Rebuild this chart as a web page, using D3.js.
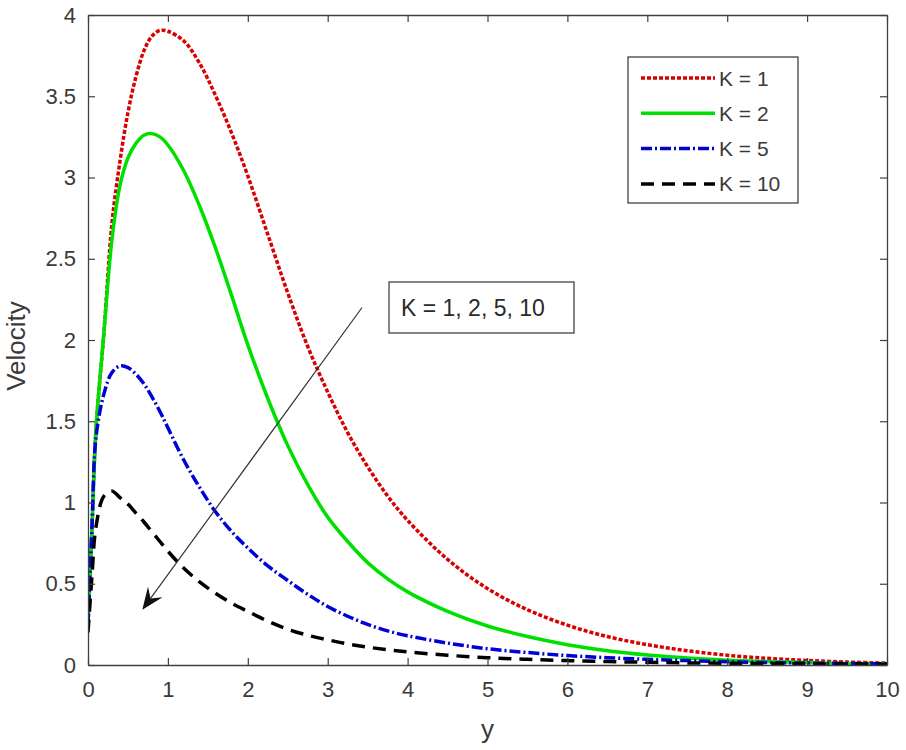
<!DOCTYPE html>
<html>
<head>
<meta charset="utf-8">
<script src="https://cdn.jsdelivr.net/npm/d3@7"></script>
<style>
  html, body { margin: 0; padding: 0; background: #fff; }
  svg { display: block; font-family: "Liberation Sans", Arial, sans-serif; }
</style>
</head>
<body>
<svg id="chart" width="906" height="750"></svg>
<script>
// ---------------- data ----------------
const yGrid = [0, 0.05, 0.1, 0.2, 0.3, 0.4, 0.5, 0.6, 0.7, 0.8, 0.9, 1.0, 1.2, 1.4, 1.6, 1.8, 2.0, 2.25, 2.5, 2.75, 3.0, 3.25, 3.5, 3.75, 4.0, 4.5, 5.0, 5.5, 6.0, 6.5, 7.0, 7.5, 8.0, 8.5, 9.0, 9.5, 10];
const velK1  = [0.25, 0.85, 1.45, 2.05, 2.72, 3.10, 3.40, 3.62, 3.78, 3.87, 3.905, 3.90, 3.84, 3.70, 3.50, 3.27, 3.01, 2.65, 2.29, 1.96, 1.68, 1.43, 1.22, 1.04, 0.89, 0.65, 0.47, 0.34, 0.245, 0.175, 0.125, 0.088, 0.060, 0.041, 0.028, 0.018, 0.012];
const velK2  = [0.25, 0.85, 1.45, 2.05, 2.62, 2.95, 3.12, 3.21, 3.26, 3.27, 3.25, 3.20, 3.04, 2.82, 2.56, 2.27, 1.97, 1.64, 1.35, 1.11, 0.91, 0.76, 0.63, 0.53, 0.45, 0.33, 0.24, 0.175, 0.125, 0.088, 0.062, 0.043, 0.030, 0.021, 0.015, 0.010, 0.007];
const velK5  = [0.25, 0.85, 1.40, 1.67, 1.80, 1.84, 1.83, 1.79, 1.73, 1.65, 1.56, 1.46, 1.26, 1.09, 0.94, 0.82, 0.72, 0.61, 0.52, 0.435, 0.36, 0.30, 0.25, 0.21, 0.18, 0.135, 0.100, 0.077, 0.058, 0.045, 0.035, 0.027, 0.020, 0.015, 0.012, 0.009, 0.007];
const velK10 = [0.20, 0.55, 0.85, 1.04, 1.07, 1.03, 0.99, 0.935, 0.88, 0.82, 0.76, 0.70, 0.595, 0.51, 0.44, 0.38, 0.33, 0.27, 0.22, 0.183, 0.155, 0.13, 0.11, 0.094, 0.081, 0.06, 0.045, 0.035, 0.027, 0.021, 0.017, 0.013, 0.011, 0.009, 0.007, 0.006, 0.005];

const seriesNames = ["K = 1", "K = 2", "K = 5", "K = 10"];
const seriesValues = [velK1, velK2, velK5, velK10];
const seriesColors = ["#d80000", "#00e000", "#0000d8", "#000000"];
const seriesDashes = ["4,2", null, "11,3,2,3", "13,8"];

const xTicks = [0, 1, 2, 3, 4, 5, 6, 7, 8, 9, 10];
const yTicks = [0, 0.5, 1, 1.5, 2, 2.5, 3, 3.5, 4];
const xLabel = "y";
const yLabel = "Velocity";
const noteText = "K = 1, 2, 5, 10";
// arrow in data coordinates: start -> tip
const arrowFrom = [3.43, 2.20];
const arrowTo = [0.68, 0.34];

// ---------------- layout ----------------
const L = 88, R = 887, T = 15, B = 665;
const axisCol = "#404040", textCol = "#3a3a3a";

const svg = d3.select("#chart");
const x = d3.scaleLinear().domain([0, 10]).range([L, R]);
const y = d3.scaleLinear().domain([0, 4]).range([B, T]);

// curves (clipped)
svg.append("clipPath").attr("id", "clip").append("rect")
  .attr("x", L).attr("y", T).attr("width", R - L).attr("height", B - T);

const line = d3.line().x(d => x(d[0])).y(d => y(d[1])).curve(d3.curveCatmullRom.alpha(0.5));
const plot = svg.append("g").attr("clip-path", "url(#clip)");
seriesValues.forEach((vals, i) => {
  const pts = yGrid.map((g, j) => [g, vals[j]]);
  plot.append("path")
    .attr("d", line(pts))
    .attr("fill", "none")
    .attr("stroke", seriesColors[i])
    .attr("stroke-width", 3.5)
    .attr("stroke-dasharray", seriesDashes[i])
    .attr("stroke-linejoin", "round");
});

// axes
const tickLen = 7;
const xAxisB = d3.axisBottom(x).tickValues(xTicks).tickSizeInner(-tickLen).tickSizeOuter(0).tickPadding(16).tickFormat(d3.format("d"));
const yAxisL = d3.axisLeft(y).tickValues(yTicks).tickSizeInner(-tickLen).tickSizeOuter(0).tickPadding(12).tickFormat(d => d3.format("")(d));
const xAxisT = d3.axisTop(x).tickValues(xTicks).tickSizeInner(-tickLen).tickSizeOuter(0).tickFormat("");
const yAxisR = d3.axisRight(y).tickValues(yTicks).tickSizeInner(-tickLen).tickSizeOuter(0).tickFormat("");

function styleAxis(g) {
  g.selectAll("path.domain").attr("stroke", axisCol).attr("stroke-width", 1.3);
  g.selectAll(".tick line").attr("stroke", axisCol).attr("stroke-width", 1.2);
  g.selectAll(".tick text").attr("fill", textCol).attr("font-size", 22)
    .attr("font-family", "'Liberation Sans', Arial, sans-serif");
}
svg.append("g").attr("transform", `translate(0,${B})`).call(xAxisB).call(styleAxis);
svg.append("g").attr("transform", `translate(${L},0)`).call(yAxisL).call(styleAxis);
svg.append("g").attr("transform", `translate(0,${T})`).call(xAxisT).call(styleAxis);
svg.append("g").attr("transform", `translate(${R},0)`).call(yAxisR).call(styleAxis);

// axis labels
svg.append("text").attr("x", (L + R) / 2).attr("y", 738)
  .attr("text-anchor", "middle").attr("fill", textCol).attr("font-size", 26).text(xLabel);
svg.append("text").attr("transform", `translate(25,${(T + B) / 2 + 6}) rotate(-90)`)
  .attr("text-anchor", "middle").attr("fill", textCol).attr("font-size", 26).text(yLabel);

// legend
const lg = svg.append("g");
lg.append("rect").attr("x", 628).attr("y", 57).attr("width", 170).attr("height", 146)
  .attr("fill", "#fff").attr("stroke", "#333").attr("stroke-width", 1.2);
seriesNames.forEach((name, i) => {
  const yy = 78 + i * 35.3;
  lg.append("line").attr("x1", 641).attr("x2", 715).attr("y1", yy).attr("y2", yy)
    .attr("stroke", seriesColors[i]).attr("stroke-width", 3.5)
    .attr("stroke-dasharray", seriesDashes[i]);
  lg.append("text").attr("x", 719).attr("y", yy).attr("dy", "0.36em")
    .attr("fill", textCol).attr("font-size", 21).text(name);
});

// annotation box
svg.append("rect").attr("x", 389).attr("y", 282).attr("width", 185).attr("height", 51)
  .attr("fill", "#fff").attr("stroke", "#444").attr("stroke-width", 1.3);
svg.append("text").attr("x", 401).attr("y", 308).attr("dy", "0.36em")
  .attr("fill", "#2a2a2a").attr("font-size", 23).text(noteText);

// arrow
const ax1 = x(arrowFrom[0]), ay1 = y(arrowFrom[1]);
const ax2 = x(arrowTo[0]), ay2 = y(arrowTo[1]);
const ang = Math.atan2(ay2 - ay1, ax2 - ax1);
const headLen = 22, headW = 9, notch = 14;
svg.append("line").attr("x1", ax1).attr("y1", ay1)
  .attr("x2", ax2 - Math.cos(ang) * notch).attr("y2", ay2 - Math.sin(ang) * notch)
  .attr("stroke", "#333").attr("stroke-width", 1.2);
const ca = Math.cos(ang), sa = Math.sin(ang);
const p = (u, v) => [ax2 + u * ca - v * sa, ay2 + u * sa + v * ca];
svg.append("path")
  .attr("d", "M" + [p(0, 0), p(-headLen, headW), p(-notch, 0), p(-headLen, -headW)].map(q => q.join(",")).join("L") + "Z")
  .attr("fill", "#111");
</script>
</body>
</html>
